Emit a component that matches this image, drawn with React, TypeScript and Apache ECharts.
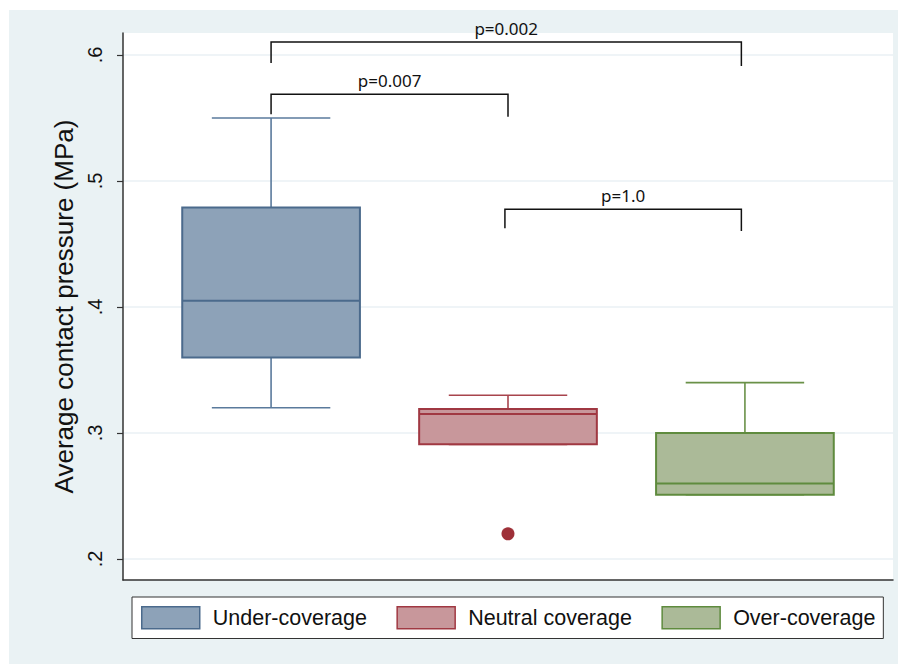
import React, { useEffect, useRef } from "react";
import * as echarts from "echarts";

const categories = ["Under-coverage", "Neutral coverage", "Over-coverage"];
// box statistics per group: [min, Q1, median, Q3, max]
const underCoverage = [0.32, 0.36, 0.405, 0.479, 0.55];
const neutralCoverage = [0.291, 0.291, 0.315, 0.319, 0.33];
const overCoverage = [0.251, 0.251, 0.26, 0.3, 0.34];
// outliers: [group index, value]
const outliers = [[1, 0.22]];
const yTicks = [0.2, 0.3, 0.4, 0.5, 0.6];
const pLabels = ["p=0.002", "p=0.007", "p=1.0"];
// [x left, x right, y top, y left end, y right end]
const brackets = [
  [0, 1.985, 0.6103, 0.5937, 0.5913],
  [0, 1, 0.5688, 0.5529, 0.551],
  [0.987, 1.985, 0.4775, 0.4625, 0.4603],
];

const fills = ["#8DA2B8", "#C8979B", "#ABBA98"];
const borders = ["#4B6A8C", "#A03842", "#5F8B3E"];
const whiskers = ["#5A7A9C", "#A8444D", "#6A9148"];

export default function App() {
  const ref = useRef<HTMLDivElement>(null);
  useEffect(() => {
    if (!ref.current) return;
    const chart = echarts.init(ref.current, null, { renderer: "svg" });
    const groups = [underCoverage, neutralCoverage, overCoverage];
    const boxSeries = groups.map((g, i) => ({
      type: "custom",
      name: categories[i],
      xAxisIndex: 0,
      yAxisIndex: 0,
      encode: { x: 0, y: [1, 2, 3, 4, 5] },
      itemStyle: { color: fills[i], borderColor: borders[i], borderWidth: 1.5 },
      data: [[i, ...g]],
      renderItem: (params: any, api: any) => {
        const x = api.value(0);
        const lo = api.coord([x, api.value(1)]);
        const q1 = api.coord([x, api.value(2)]);
        const med = api.coord([x, api.value(3)]);
        const q3 = api.coord([x, api.value(4)]);
        const hi = api.coord([x, api.value(5)]);
        const band = api.size([1, 0])[0];
        const bw = band * 0.75;
        const cw = band * 0.5;
        const cx = lo[0];
        const wStyle = { stroke: whiskers[i], lineWidth: 1.6 };
        return {
          type: "group",
          children: [
            { type: "line", shape: { x1: cx, y1: hi[1], x2: cx, y2: q3[1] }, style: wStyle },
            { type: "line", shape: { x1: cx, y1: q1[1], x2: cx, y2: lo[1] }, style: wStyle },
            { type: "line", shape: { x1: cx - cw / 2, y1: hi[1], x2: cx + cw / 2, y2: hi[1] }, style: wStyle },
            { type: "line", shape: { x1: cx - cw / 2, y1: lo[1], x2: cx + cw / 2, y2: lo[1] }, style: wStyle },
            {
              type: "rect",
              shape: { x: cx - bw / 2, y: q3[1], width: bw, height: q1[1] - q3[1] },
              style: { fill: fills[i], stroke: borders[i], lineWidth: 2 },
            },
            {
              type: "line",
              shape: { x1: cx - bw / 2, y1: med[1], x2: cx + bw / 2, y2: med[1] },
              style: { stroke: borders[i], lineWidth: 2 },
            },
          ],
        };
      },
    }));

    const option: any = {
      animation: false,
      grid: {
        left: 123,
        top: 33,
        right: 10,
        bottom: 84,
        show: true,
        backgroundColor: "#ffffff",
        borderWidth: 0,
      },
      xAxis: {
        type: "value",
        min: -0.625,
        max: 2.625,
        axisLine: { show: true, onZero: false, lineStyle: { color: "#333", width: 1.5 } },
        axisTick: { show: false },
        axisLabel: { show: false },
        splitLine: { show: false },
      },
      yAxis: {
        type: "value",
        min: 0.18333,
        max: 0.61746,
        name: "Average contact pressure (MPa)",
        nameLocation: "middle",
        nameRotate: 90,
        nameGap: 45,
        nameTextStyle: { fontFamily: "Liberation Sans", fontSize: 26, color: "#111" },
        axisLine: { show: true, onZero: false, lineStyle: { color: "#333", width: 1.5 } },
        axisTick: {
          show: true,
          length: 6,
          customValues: yTicks,
          lineStyle: { color: "#333", width: 1.2 },
        },
        axisLabel: {
          customValues: yTicks,
          rotate: 90,
          margin: 18,
          fontFamily: "Liberation Sans",
          fontSize: 20,
          color: "#111",
          formatter: (v: number) => String(Math.round(v * 10) / 10).replace(/^0/, ""),
        },
        splitLine: { show: true, lineStyle: { color: "#EAF0F4", width: 1.5 } },
      },
      legend: {
        data: categories.map((c, i) => ({
          name: c,
          icon: "rect",
          itemStyle: { color: fills[i], borderColor: borders[i], borderWidth: 1.5 },
        })),
        left: 132,
        top: 597,
        orient: "horizontal",
        itemWidth: 58,
        itemHeight: 22,
        itemGap: 29.5,
        padding: [9, 8, 9, 9],
        backgroundColor: "#ffffff",
        borderColor: "#333",
        borderWidth: 1,
        textStyle: {
          fontFamily: "Liberation Sans",
          fontSize: 21.5,
          color: "#111",
          padding: [0, 0, 0, 8],
        },
        selectedMode: false,
      },
      series: [
        ...boxSeries,
        {
          type: "scatter",
          name: "outlier",
          data: outliers,
          symbol: "circle",
          symbolSize: 13,
          itemStyle: { color: "#9E3038", opacity: 1 },
          z: 5,
        },
        {
          type: "custom",
          name: "brackets",
          data: brackets,
          encode: { x: [0, 1], y: [2, 3, 4] },
          renderItem: (params: any, api: any) => {
            const xl = api.value(0);
            const xr = api.value(1);
            const top = api.value(2);
            const pl = api.coord([xl, api.value(3)]);
            const plt = api.coord([xl, top]);
            const prt = api.coord([xr, top]);
            const pr = api.coord([xr, api.value(4)]);
            return {
              type: "group",
              children: [
                {
                  type: "polyline",
                  shape: { points: [pl, plt, prt, pr] },
                  style: { stroke: "#111", lineWidth: 1.5, fill: "none" },
                },
                {
                  type: "text",
                  x: (plt[0] + prt[0]) / 2,
                  y: plt[1] - 5,
                  style: {
                    text: pLabels[params.dataIndex],
                    textAlign: "center",
                    textVerticalAlign: "bottom",
                    fontFamily: "Noto Sans",
                    fontSize: 17,
                    fill: "#111",
                  },
                },
              ],
            };
          },
          z: 6,
        },
      ],
    };
    chart.setOption(option);
    return () => chart.dispose();
  }, []);

  return (
    <div style={{ position: "fixed", left: 0, top: 0, width: 903, height: 664, background: "#ffffff" }}>
      <div
        style={{ position: "absolute", left: 9, top: 10, width: 889, height: 654, background: "#EAF2F4" }}
      />
      <div ref={ref} style={{ position: "absolute", left: 0, top: 0, width: 903, height: 664 }} />
    </div>
  );
}
